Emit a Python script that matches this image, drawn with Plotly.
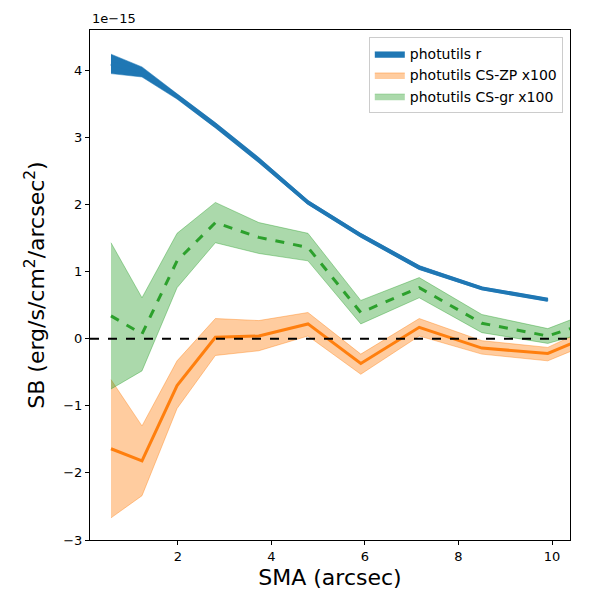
import plotly.graph_objects as go

# SMA sample points (arcsec)
sma_r = [0.567, 1.23, 1.98, 2.80, 3.73, 4.78, 5.91, 7.16, 8.50, 9.91]
sb_r = [4.10, 3.98, 3.61, 3.18, 2.66, 2.03, 1.54, 1.06, 0.75, 0.58]
sb_r_hi = [4.24, 4.05, 3.65, 3.22, 2.70, 2.06, 1.57, 1.09, 0.77, 0.60]
sb_r_lo = [3.95, 3.90, 3.57, 3.14, 2.62, 2.00, 1.51, 1.03, 0.73, 0.56]

sma_cs = [0.567, 1.23, 1.98, 2.80, 3.73, 4.78, 5.91, 7.16, 8.50, 9.91, 11.4]
# CS-ZP x100
zp = [-1.64, -1.82, -0.70, 0.02, 0.04, 0.22, -0.37, 0.17, -0.14, -0.22, 0.22]
zp_hi = [-0.61, -1.30, -0.33, 0.30, 0.27, 0.39, -0.23, 0.30, -0.03, -0.13, 0.36]
zp_lo = [-2.67, -2.34, -1.04, -0.25, -0.18, 0.04, -0.53, 0.04, -0.23, -0.33, 0.10]
# CS-gr x100
gr = [0.34, 0.07, 1.16, 1.73, 1.51, 1.36, 0.39, 0.76, 0.23, 0.04, 0.38]
gr_hi = [1.43, 0.61, 1.57, 2.03, 1.73, 1.57, 0.57, 0.91, 0.36, 0.15, 0.55]
gr_lo = [-0.75, -0.48, 0.76, 1.43, 1.27, 1.16, 0.22, 0.61, 0.09, -0.07, 0.22]

zero_level = 0.0
x_ticks = [2, 4, 6, 8, 10]
y_ticks = [-3, -2, -1, 0, 1, 2, 3, 4]
x_range = [0.118, 10.385]
y_range = [-3, 4.6]

BLUE = "#1f77b4"
ORANGE = "#ff7f0e"
GREEN = "#2ca02c"

def band(x, lo, hi):
    return list(x) + list(x)[::-1], list(hi) + list(lo)[::-1]

fig = go.Figure()

bx, by = band(sma_r, sb_r_lo, sb_r_hi)
fig.add_trace(go.Scatter(x=bx, y=by, fill="toself", fillcolor=BLUE, mode="lines",
                         line=dict(width=0.5, color=BLUE), name="photutils r"))

ox, oy = band(sma_cs, zp_lo, zp_hi)
fig.add_trace(go.Scatter(x=ox, y=oy, fill="toself", fillcolor="rgba(255,127,14,0.4)",
                         mode="lines", line=dict(width=1, color="rgba(255,127,14,0.4)"),
                         name="photutils CS-ZP x100"))

gx, gy = band(sma_cs, gr_lo, gr_hi)
fig.add_trace(go.Scatter(x=gx, y=gy, fill="toself", fillcolor="rgba(44,160,44,0.4)",
                         mode="lines", line=dict(width=1, color="rgba(44,160,44,0.4)"),
                         name="photutils CS-gr x100"))

fig.add_trace(go.Scatter(x=sma_r, y=sb_r, mode="lines", line=dict(color=BLUE, width=4),
                         showlegend=False))
fig.add_trace(go.Scatter(x=sma_cs, y=zp, mode="lines", line=dict(color=ORANGE, width=3),
                         showlegend=False))
fig.add_trace(go.Scatter(x=sma_cs, y=gr, mode="lines",
                         line=dict(color=GREEN, width=3, dash="dash"), showlegend=False))

fig.add_shape(type="line", xref="paper", x0=0, x1=1, yref="y", y0=zero_level, y1=zero_level,
              line=dict(color="black", width=2, dash="dash"))

fig.add_annotation(text="1e\u221215", xref="paper", yref="paper", x=0, y=1,
                   xanchor="left", yanchor="bottom", showarrow=False, yshift=2,
                   font=dict(size=13, color="black"))

axis_common = dict(showline=True, linecolor="black", linewidth=1.2, mirror=True,
                   ticks="outside", ticklen=4, tickwidth=1.2, tickcolor="black",
                   showgrid=False, zeroline=False, tickfont=dict(size=13, color="black"))

fig.update_layout(
    width=600, height=600,
    margin=dict(l=82, r=38, t=22, b=68, autoexpand=False),
    plot_bgcolor="white", paper_bgcolor="white",
    font=dict(family="DejaVu Sans", color="black"),
    xaxis=dict(range=x_range, tickvals=x_ticks,
               title=dict(text="SMA (arcsec)", font=dict(size=22), standoff=6),
               **axis_common),
    yaxis=dict(range=y_range, tickvals=y_ticks,
               title=dict(text="SB (erg/s/cm<sup>2</sup>/arcsec<sup>2</sup>)", font=dict(size=22),
                          standoff=12),
               **axis_common),
    legend=dict(x=0.985, y=0.986, xanchor="right", yanchor="top",
                bgcolor="rgba(255,255,255,0.8)", bordercolor="#cccccc", borderwidth=1,
                font=dict(size=14)),
    showlegend=True,
)

fig.write_html("out.html")
